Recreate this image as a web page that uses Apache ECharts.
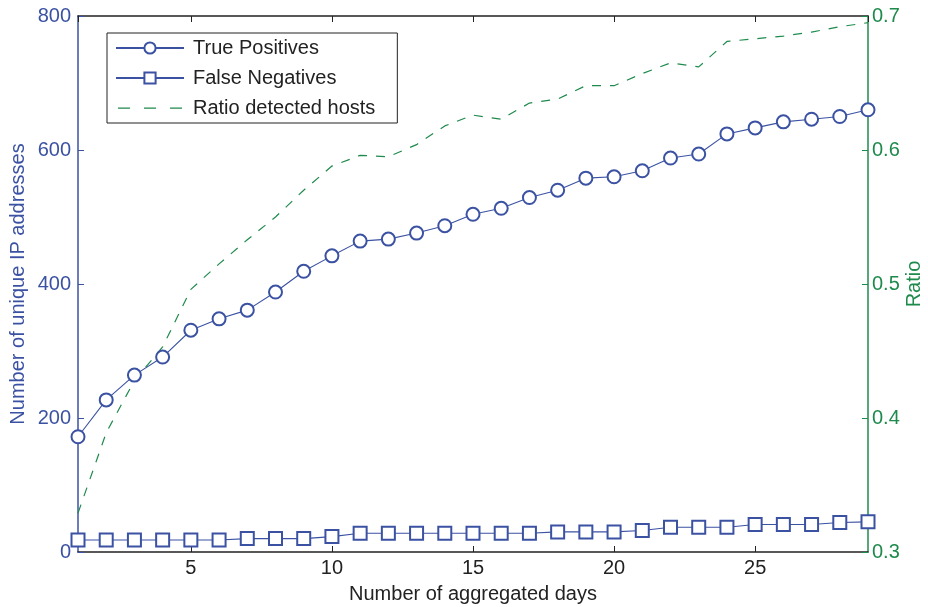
<!DOCTYPE html>
<html>
<head>
<meta charset="utf-8">
<script src="https://cdn.jsdelivr.net/npm/echarts@6/dist/echarts.min.js"></script>
<style>
  html, body { margin: 0; padding: 0; background: #fff; }
  #chart { width: 928px; height: 607px; }
</style>
</head>
<body>
<div id="chart"></div>
<script>
// data
const days = [1,2,3,4,5,6,7,8,9,10,11,12,13,14,15,16,17,18,19,20,21,22,23,24,25,26,27,28,29];
const truePositives = [172,227,264,291,331,348,361,388,419,442,464,467,476,487,504,513,529,540,558,560,569,588,594,624,633,642,646,650,660];
const falseNegatives = [18,18,18,18,18,18,20,20,20,23,28,28,28,28,28,28,28,30,30,30,32,37,37,37,41,41,41,44,45];
const ratio = [0.329,0.389,0.428,0.453,0.496,0.515,0.533,0.550,0.570,0.588,0.596,0.595,0.604,0.618,0.626,0.623,0.635,0.638,0.648,0.648,0.657,0.665,0.662,0.681,0.683,0.685,0.688,0.692,0.695];

const blue = '#3b52a3';
const green = '#1e8a4c';
const font = 'Liberation Sans, Arial, sans-serif';
const fs = 20;

const pairs = (ys) => days.map((d, i) => [d, ys[i]]);

// three short dashes for the legend entry of the dashed line
const dashIcon = 'path://M0,0H0.01V14H0Z M0,6.5H12V7.7H0Z M26,6.5H38V7.7H26Z M52,6.5H64V7.7H52Z M63.99,0H64V14H63.99Z';

const chart = echarts.init(document.getElementById('chart'));
chart.setOption({
  animation: false,
  textStyle: { fontFamily: font },
  grid: { left: 78, right: 60, top: 16, bottom: 55, containLabel: false, outerBoundsMode: 'none' },
  legend: {
    orient: 'vertical',
    left: 107,
    top: 33,
    padding: [5, 22, 5, 8],
    itemWidth: 68,
    itemHeight: 14,
    itemGap: 10,
    borderColor: '#222',
    borderWidth: 1,
    backgroundColor: '#fff',
    textStyle: { fontFamily: font, fontSize: fs, color: '#222', padding: [0, 0, 0, 4] },
    data: [
      'True Positives',
      'False Negatives',
      { name: 'Ratio detected hosts', icon: dashIcon }
    ]
  },
  xAxis: [
    {
      type: 'value', min: 1, max: 29, splitNumber: 6,
      name: 'Number of aggregated days', nameLocation: 'middle', nameGap: 32,
      nameTextStyle: { fontSize: fs, color: '#222' },
      axisLine: { lineStyle: { color: '#222', width: 1.5 } },
      axisTick: { inside: true, length: 6, lineStyle: { color: '#222' } },
      axisLabel: { fontSize: fs, color: '#222', margin: 6, showMinLabel: false, showMaxLabel: false },
      splitLine: { show: false }
    },
    {
      type: 'value', min: 1, max: 29, splitNumber: 6, position: 'top',
      axisLine: { lineStyle: { color: '#222', width: 1.5 } },
      axisTick: { inside: true, length: 6, lineStyle: { color: '#222' } },
      axisLabel: { show: false },
      splitLine: { show: false }
    }
  ],
  yAxis: [
    {
      type: 'value', min: 0, max: 800, interval: 200,
      name: 'Number of unique IP addresses', nameLocation: 'middle', nameGap: 50,
      nameMoveOverlap: false,
      nameTextStyle: { fontSize: fs, color: blue },
      axisLine: { show: true, lineStyle: { color: blue, width: 1.5 } },
      axisTick: { show: true, inside: true, length: 6, lineStyle: { color: blue } },
      axisLabel: { fontSize: fs, color: blue, margin: 7 },
      splitLine: { show: false }
    },
    {
      type: 'value', min: 0.3, max: 0.7, interval: 0.1, position: 'right',
      name: 'Ratio', nameLocation: 'middle', nameGap: 36, nameRotate: 90,
      nameMoveOverlap: false,
      nameTextStyle: { fontSize: fs, color: green },
      axisLine: { show: true, lineStyle: { color: green, width: 1.5 } },
      axisTick: { show: true, inside: true, length: 6, lineStyle: { color: green } },
      axisLabel: { fontSize: fs, color: green, margin: 4, formatter: (v) => v.toFixed(1) },
      splitLine: { show: false }
    }
  ],
  series: [
    {
      name: 'True Positives', type: 'line', xAxisIndex: 0, yAxisIndex: 0,
      data: pairs(truePositives),
      symbol: 'emptyCircle', symbolSize: 13,
      lineStyle: { color: blue, width: 1.1 },
      itemStyle: { color: blue, borderWidth: 1 }
    },
    {
      name: 'False Negatives', type: 'line', xAxisIndex: 0, yAxisIndex: 0,
      data: pairs(falseNegatives),
      symbol: 'emptyRect', symbolSize: 13,
      lineStyle: { color: blue, width: 1.1 },
      itemStyle: { color: blue, borderWidth: 1 }
    },
    {
      name: 'Ratio detected hosts', type: 'line', xAxisIndex: 0, yAxisIndex: 1,
      data: pairs(ratio),
      symbol: 'none',
      lineStyle: { color: green, width: 1.2, type: [9, 9] },
      itemStyle: { color: green }
    }
  ]
});
</script>
</body>
</html>
